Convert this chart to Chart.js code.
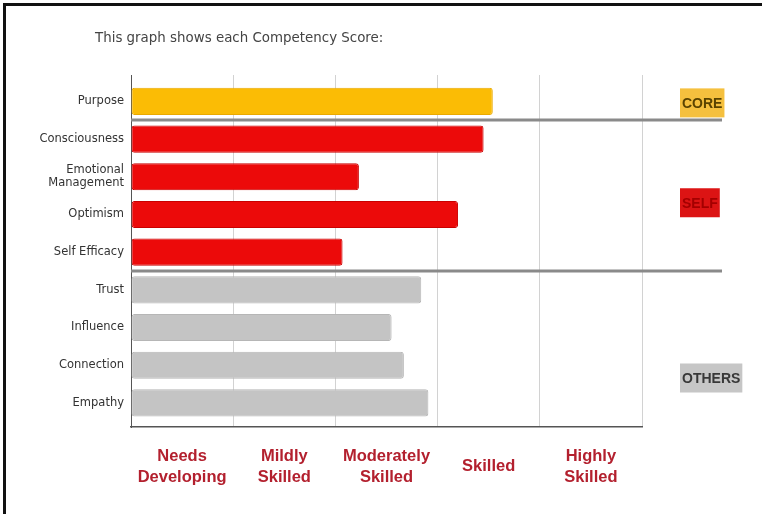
<!DOCTYPE html>
<html>
<head>
<meta charset="utf-8">
<script src="https://cdn.jsdelivr.net/npm/chart.js@4.4.1/dist/chart.umd.min.js"></script>
<style>
  body { margin: 0; background: #fff; }
  #wrap { position: relative; width: 762px; height: 514px; overflow: hidden; }
  #frame { position: absolute; left: 3px; top: 3px; right: -10px; bottom: -10px; border-top: 3px solid #111; border-left: 3px solid #111; }
  #note { position: absolute; left: 95px; top: 30px; font: 13.4px "DejaVu Sans", sans-serif; color: #444; }
  canvas { position: absolute; left: 0; top: 0; }
</style>
</head>
<body>
<div id="wrap">
  <canvas id="chart" width="762" height="514"></canvas>
  <div id="frame"></div>
  <div id="note">This graph shows each Competency Score:</div>
</div>
<script>
// --- Data ---
const COMPETENCIES = [
  "Purpose", "Consciousness", ["Emotional", "Management"], "Optimism", "Self Efficacy",
  "Trust", "Influence", "Connection", "Empathy",
];
const SCORES = [3.54, 3.45, 2.23, 3.2, 2.07, 2.84, 2.55, 2.67, 2.91];
const GROUP_OF = ["core", "self", "self", "self", "self", "others", "others", "others", "others"];
const LEVELS = [["Needs", "Developing"], ["Mildly", "Skilled"], ["Moderately", "Skilled"], "Skilled", ["Highly", "Skilled"]];
const GROUP_TAGS = [
  { key: "core", label: "CORE", row: 0 },
  { key: "self", label: "SELF", row: 2.65 },
  { key: "others", label: "OTHERS", row: 7.3 },
];
const GROUP_BREAKS = [0.5, 4.5];

// --- Styling ---
const COLORS = {
  core: { fill: "#fbbc05", border: "#eaa900", tag: "#f5c03e", text: "#5a4300" },
  self: { fill: "#ec0a0a", border: "#c90000", tag: "#dc1414", text: "#a40000" },
  others: { fill: "#c4c4c4", border: "#b6b6b6", tag: "#c6c6c6", text: "#383838" },
};
const SANS = '"Liberation Sans", Arial, sans-serif';

const groupDecor = {
  id: "groupDecor",
  afterDraw(chart) {
    const { ctx, scales } = chart;
    const y = scales.y;
    const left = chart.chartArea.left;
    ctx.save();
    ctx.strokeStyle = "#8a8a8a";
    ctx.lineWidth = 3;
    GROUP_BREAKS.forEach((b) => {
      const py = Math.round(y.getPixelForValue(b));
      ctx.beginPath();
      ctx.moveTo(left, py);
      ctx.lineTo(722, py);
      ctx.stroke();
    });
    ctx.font = "bold 14px " + SANS;
    ctx.textBaseline = "middle";
    GROUP_TAGS.forEach((g) => {
      const c = COLORS[g.key];
      const py = y.getPixelForValue(g.row) + 1.5;
      const w = ctx.measureText(g.label).width + 4;
      ctx.fillStyle = c.tag;
      ctx.fillRect(680, py - 14.5, w, 29);
      ctx.fillStyle = c.text;
      ctx.fillText(g.label, 682, py + 1);
    });
    ctx.restore();
  },
};

new Chart(document.getElementById("chart"), {
  type: "bar",
  data: {
    labels: COMPETENCIES,
    datasets: [
      {
        data: SCORES.map((s, i) => ({ x: s, y: i })),
        backgroundColor: GROUP_OF.map((g) => COLORS[g].fill),
        borderColor: GROUP_OF.map((g) => COLORS[g].border),
        borderWidth: 1,
        borderRadius: 3,
        borderSkipped: false,
        barPercentage: 0.72,
        categoryPercentage: 1,
      },
    ],
  },
  options: {
    indexAxis: "y",
    responsive: false,
    animation: false,
    layout: { padding: { top: 75, right: 120, left: 0, bottom: 0 } },
    plugins: { legend: { display: false }, tooltip: { enabled: false } },
    scales: {
      y: {
        type: "linear",
        reverse: true,
        offset: false,
        min: -0.7,
        max: 8.64,
        afterFit: (s) => { s.width = 131; },
        afterBuildTicks: (s) => { s.ticks = COMPETENCIES.map((_, i) => ({ value: i })); },
        grid: { display: false, drawTicks: false, offset: false },
        border: { display: true, color: "#555", width: 1 },
        ticks: {
          autoSkip: false,
          padding: 7,
          color: "#333",
          font: { family: '"DejaVu Sans", sans-serif', size: 11.5, lineHeight: 1.15 },
          callback: (v) => COMPETENCIES[v],
        },
      },
      x: {
        type: "linear",
        min: 0,
        max: 5,
        afterFit: (s) => { s.height = 0; },
        grid: { color: "#d2d2d2", lineWidth: 1, drawTicks: false },
        border: { display: true, color: "#555", width: 1.5 },
        ticks: { display: false, stepSize: 1 },
      },
      x2: {
        type: "linear",
        position: "bottom",
        min: 0,
        max: 5,
        afterFit: (s) => { s.height = 87; },
        afterBuildTicks: (s) => { s.ticks = LEVELS.map((_, i) => ({ value: i + 0.5 })); },
        grid: { display: false, drawTicks: false },
        border: { display: false },
        ticks: {
          autoSkip: false,
          maxRotation: 0,
          crossAlign: "center",
          padding: 29,
          color: "#b3202e",
          font: { family: SANS, size: 16.5, weight: "bold", lineHeight: 1.3 },
          callback: (v, i) => LEVELS[i],
        },
      },
    },
  },
  plugins: [groupDecor],
});
</script>
</body>
</html>
